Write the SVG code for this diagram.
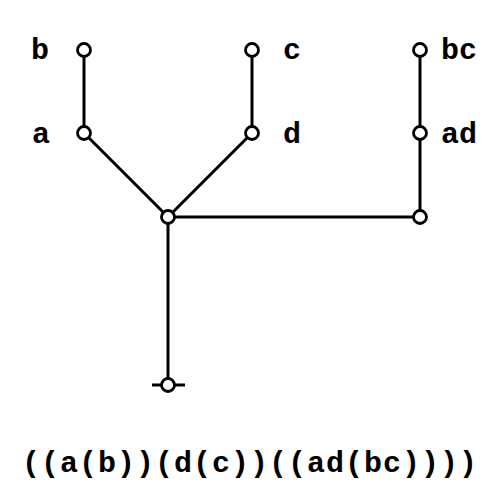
<svg xmlns="http://www.w3.org/2000/svg" width="504" height="504" viewBox="0 0 504 504">
<style>
.n{fill:#fff;stroke:#000;stroke-width:2.8}
.e{stroke:#000;stroke-width:3;fill:none}
text{font-family:"Liberation Mono","Courier New",monospace;font-weight:bold;font-size:30px;fill:#000}
</style>
<rect width="504" height="504" fill="#fff"/>
<g id="connectors">
<line class="e" x1="84" y1="50" x2="84" y2="133"/>
<line class="e" x1="84" y1="133" x2="168" y2="217"/>
<line class="e" x1="252" y1="50" x2="252" y2="133"/>
<line class="e" x1="252" y1="133" x2="168" y2="217"/>
<line class="e" x1="420" y1="50" x2="420" y2="133"/>
<line class="e" x1="420" y1="133" x2="420" y2="217"/>
<line class="e" x1="168" y1="217" x2="420" y2="217"/>
<line class="e" x1="168" y1="217" x2="168" y2="385"/>
<line class="e" x1="152" y1="385" x2="185" y2="385"/>
</g>
<g id="node-b"><circle class="n" cx="84" cy="50" r="6.5"/><text x="31" y="59">b</text></g>
<g id="node-a"><circle class="n" cx="84" cy="133" r="6.5"/><text x="32" y="143">a</text></g>
<g id="node-c"><circle class="n" cx="252" cy="50" r="6.5"/><text x="283" y="59">c</text></g>
<g id="node-d"><circle class="n" cx="252" cy="133" r="6.5"/><text x="283" y="143">d</text></g>
<g id="node-bc"><circle class="n" cx="420" cy="50" r="6.5"/><text x="441" y="59">bc</text></g>
<g id="node-ad"><circle class="n" cx="420" cy="133" r="6.5"/><text x="441" y="143">ad</text></g>
<g id="node-center"><circle class="n" cx="168" cy="217" r="6.5"/></g>
<g id="node-right"><circle class="n" cx="420" cy="217" r="6.5"/></g>
<g id="node-root"><circle class="n" cx="168" cy="385" r="6.5"/></g>
<g id="caption"><text x="250" y="472" text-anchor="middle" style="font-size:30px;letter-spacing:1px">((a(b))(d(c))((ad(bc))))</text></g>
</svg>
